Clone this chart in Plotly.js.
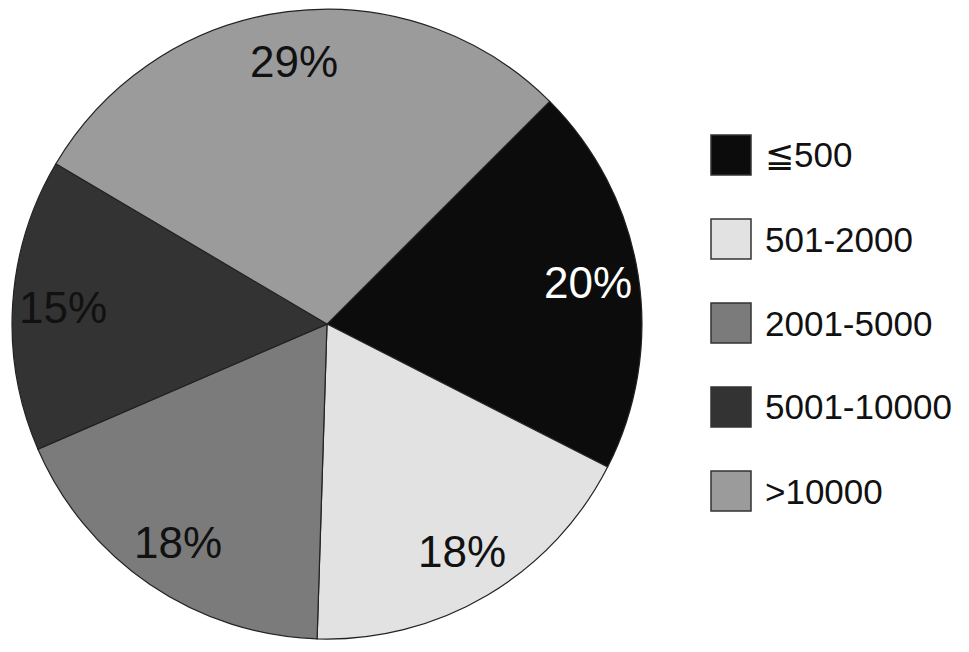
<!DOCTYPE html>
<html>
<head>
<meta charset="utf-8">
<script src="https://cdn.plot.ly/plotly-3.0.1.min.js"></script>
<style>html,body{margin:0;padding:0;background:#fff;}#chart{width:969px;height:652px;}</style>
</head>
<body>
<div id="chart"></div>
<script>
const categories = ["≦500", "501-2000", "2001-5000", "5001-10000", ">10000"];
const shares = [20, 18, 18, 15, 29];
const sliceColors = ["#0c0c0c", "#e2e2e2", "#7b7b7b", "#333333", "#9b9b9b"];
const labelColors = ["#ffffff", "#111111", "#111111", "#111111", "#111111"];

const W = 969, H = 652;
const FONT = "Liberation Sans, Arial, Helvetica, sans-serif";
const domX = [0.0124, 0.6625], domY = [0.0199, 0.986];
const rotation = 45;

const shapes = [], annotations = [];

// percentage labels placed along each slice's bisector, outer part of the pie
const total = shares.reduce((a, b) => a + b, 0);
const cxP = (domX[0] + domX[1]) / 2, cyP = (domY[0] + domY[1]) / 2;
const Rpx = Math.min((domX[1] - domX[0]) * W, (domY[1] - domY[0]) * H) / 2;
const labelRadius = 0.84;
let cum = 0;
shares.forEach((v, i) => {
  const midDeg = rotation + (cum + v / 2) / total * 360;
  cum += v;
  const a = midDeg * Math.PI / 180;
  const dx = Math.sin(a) * Rpx * labelRadius;
  const dy = Math.cos(a) * Rpx * labelRadius;
  annotations.push({
    xref: "paper", yref: "paper", x: cxP + dx / W, y: cyP + dy / H,
    xanchor: "center", yanchor: "middle", showarrow: false,
    text: Math.round(v / total * 100) + "%",
    font: {family: FONT, size: 44, color: labelColors[i]}
  });
});

// legend
const boxLeft = 711, boxSize = 40, firstCenter = 155, step = 84, textLeft = 763;
categories.forEach((c, i) => {
  const cy = firstCenter + i * step;
  shapes.push({
    type: "rect", xref: "paper", yref: "paper",
    x0: boxLeft / W, x1: (boxLeft + boxSize) / W,
    y0: 1 - (cy - boxSize / 2) / H, y1: 1 - (cy + boxSize / 2) / H,
    fillcolor: sliceColors[i], line: {color: "#333333", width: 1.5}
  });
  annotations.push({
    xref: "paper", yref: "paper", x: textLeft / W, y: 1 - cy / H,
    xanchor: "left", yanchor: "middle", showarrow: false, text: c,
    font: {family: FONT, size: 35, color: "#111111"}
  });
});

const trace = {
  type: "pie",
  labels: categories,
  values: shares,
  sort: false,
  direction: "clockwise",
  rotation: rotation,
  marker: {colors: sliceColors, line: {color: "#222222", width: 1.2}},
  textinfo: "none",
  hoverinfo: "label+percent",
  domain: {x: domX, y: domY},
  showlegend: false
};

Plotly.newPlot("chart", [trace], {
  width: W, height: H,
  margin: {l: 0, r: 0, t: 0, b: 0},
  paper_bgcolor: "#ffffff",
  showlegend: false,
  shapes: shapes,
  annotations: annotations
}, {displayModeBar: false, staticPlot: true});
</script>
</body>
</html>
